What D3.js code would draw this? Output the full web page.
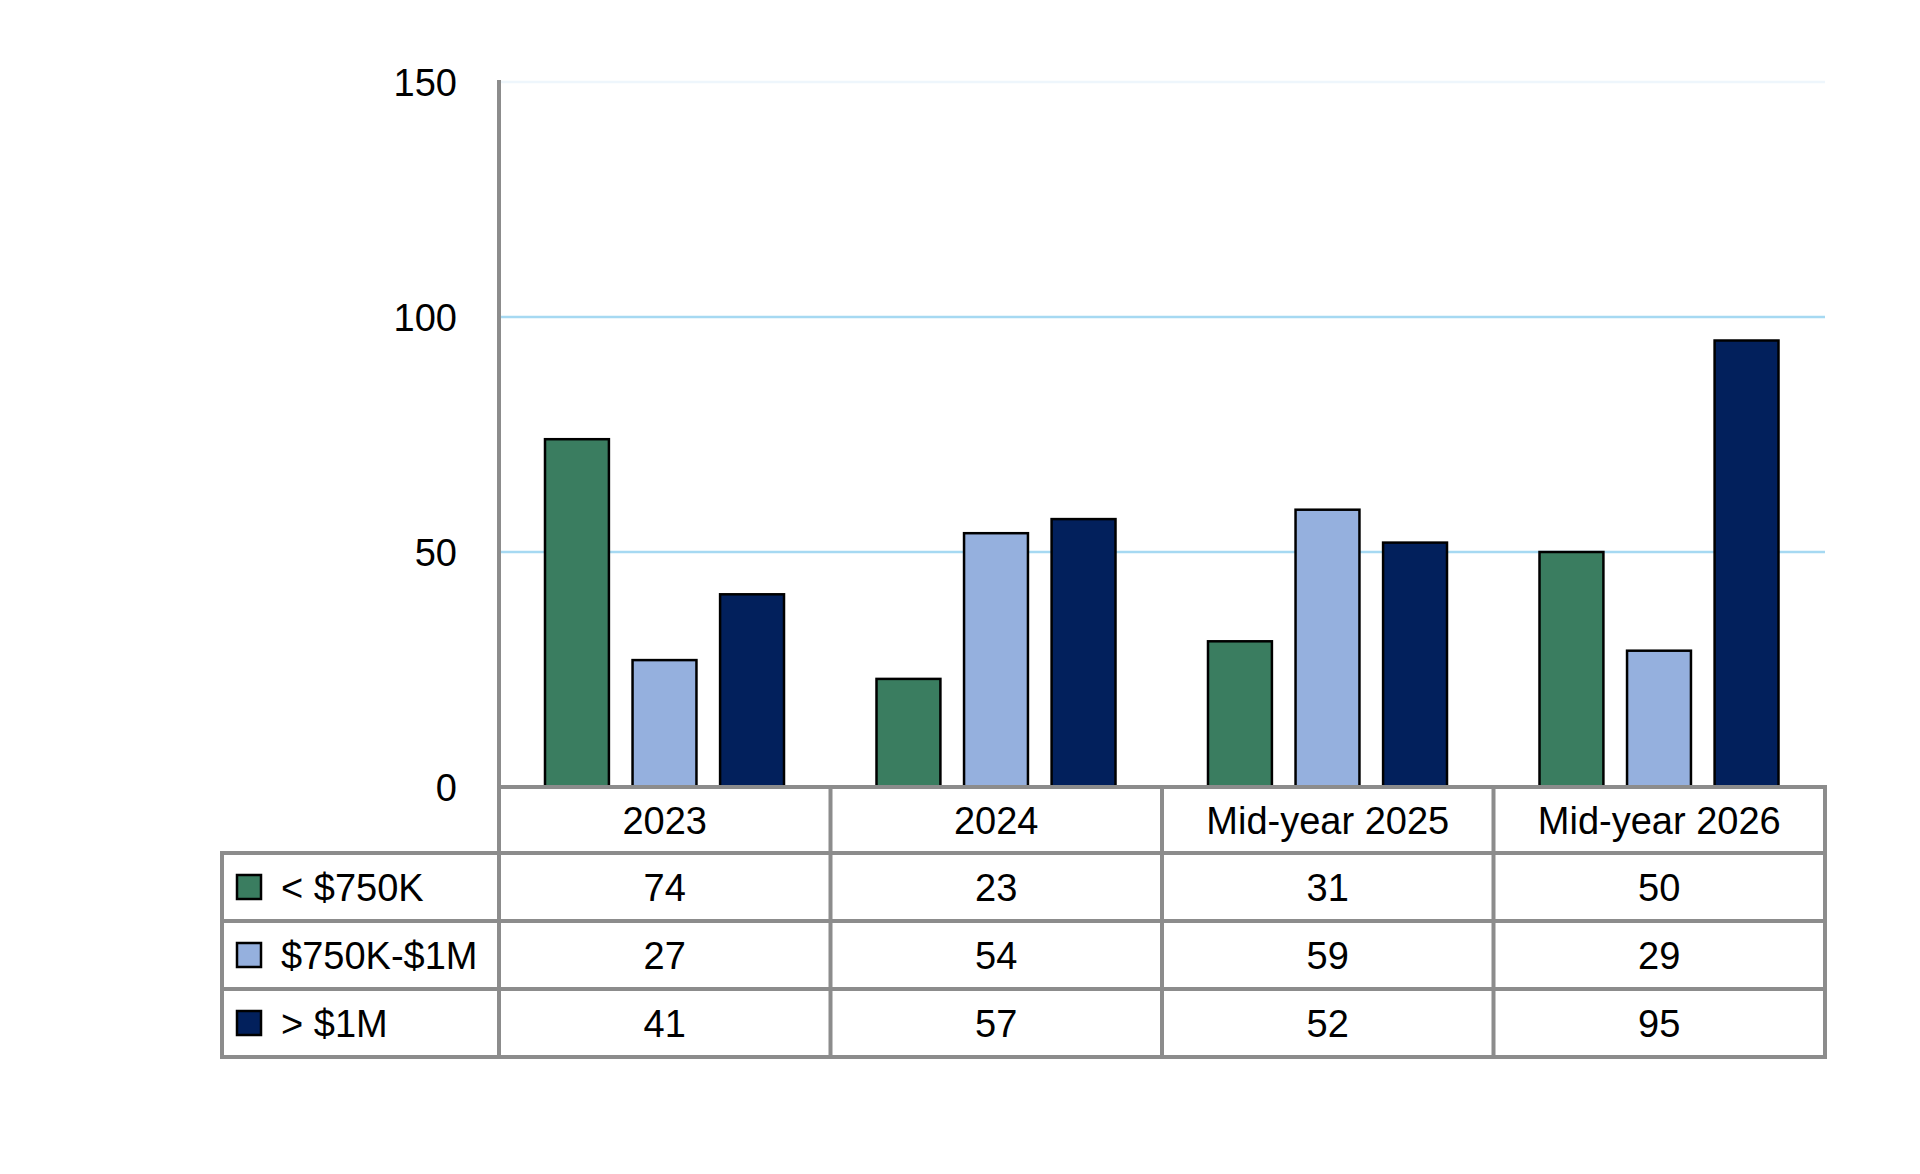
<!DOCTYPE html>
<html>
<head>
<meta charset="utf-8">
<script src="https://cdn.jsdelivr.net/npm/d3@7"></script>
<style>
  body { margin: 0; background: #ffffff; }
  text { font-family: "Liberation Sans", Arial, sans-serif; fill: #000000; }
</style>
</head>
<body>
<div id="chart"></div>
<script>
// chart data
var categories = ["2023", "2024", "Mid-year 2025", "Mid-year 2026"];
var series_names = ["< $750K", "$750K-$1M", "> $1M"];
var under_750k = [74, 23, 31, 50];
var mid_750k_1m = [27, 54, 59, 29];
var over_1m = [41, 57, 52, 95];
var y_ticks = [0, 50, 100, 150];

var series_values = [under_750k, mid_750k_1m, over_1m];
var colors = ["#3a7d60", "#95b0de", "#02205c"];

// set up chart parameters
var svg_width = 1920;
var svg_height = 1174;

var plot = { left: 499, right: 1825, top: 82, bottom: 787 };
var table = { left: 222, header: 66, row: 68 };
var line_gray = "#8c8c8c";
var font_size = 38;

var svg = d3.select("#chart")
    .append("svg")
    .attr("width", svg_width)
    .attr("height", svg_height);

// scales
var x0 = d3.scaleBand()
    .domain(categories)
    .range([plot.left, plot.right]);

var x1 = d3.scaleBand()
    .domain(d3.range(series_names.length))
    .range([46, 285])
    .paddingInner(0.27);

var y_scale = d3.scaleLinear()
    .domain([0, 150])
    .range([plot.bottom, plot.top]);

// gridlines (top one is very faint)
svg.append("g")
    .selectAll("line")
    .data(y_ticks.filter(d => d > 0))
    .enter()
    .append("line")
    .attr("x1", plot.left)
    .attr("x2", plot.right)
    .attr("y1", d => y_scale(d))
    .attr("y2", d => y_scale(d))
    .attr("stroke", d => d == 150 ? "#eef6fc" : "#a6d9f2")
    .attr("stroke-width", 2.5);

// y tick labels
svg.append("g")
    .selectAll("text")
    .data(y_ticks)
    .enter()
    .append("text")
    .attr("x", 457)
    .attr("y", d => y_scale(d))
    .attr("dy", "0.36em")
    .attr("text-anchor", "end")
    .attr("font-size", font_size)
    .text(d => d);

// bars
var bar_data = [];
categories.forEach(function(cat, i) {
    series_values.forEach(function(vals, s) {
        bar_data.push({ cat: cat, s: s, value: vals[i] });
    });
});

svg.append("g")
    .selectAll("rect")
    .data(bar_data)
    .enter()
    .append("rect")
    .attr("x", d => x0(d.cat) + x1(d.s))
    .attr("y", d => y_scale(d.value))
    .attr("width", x1.bandwidth())
    .attr("height", d => y_scale(0) - y_scale(d.value))
    .attr("fill", d => colors[d.s])
    .attr("stroke", "#000000")
    .attr("stroke-width", 2.5);

// data table
var header_bottom = plot.bottom + table.header;
var row_y = d => header_bottom + d * table.row;
var table_bottom = row_y(series_names.length);

var grid = svg.append("g")
    .attr("stroke", line_gray)
    .attr("stroke-width", 4)
    .attr("stroke-linecap", "square");

// horizontal table lines
grid.append("line")
    .attr("x1", plot.left).attr("x2", plot.right)
    .attr("y1", plot.bottom).attr("y2", plot.bottom);

grid.selectAll(".hline")
    .data(d3.range(series_names.length + 1))
    .enter()
    .append("line")
    .attr("x1", table.left).attr("x2", plot.right)
    .attr("y1", d => row_y(d)).attr("y2", d => row_y(d));

// vertical lines: value axis, category dividers, left border
grid.append("line")
    .attr("x1", plot.left).attr("x2", plot.left)
    .attr("y1", plot.top).attr("y2", table_bottom);

grid.selectAll(".vline")
    .data(categories)
    .enter()
    .append("line")
    .attr("x1", d => x0(d) + x0.bandwidth())
    .attr("x2", d => x0(d) + x0.bandwidth())
    .attr("y1", plot.bottom).attr("y2", table_bottom);

grid.append("line")
    .attr("x1", table.left).attr("x2", table.left)
    .attr("y1", header_bottom).attr("y2", table_bottom);

// category headers
svg.append("g")
    .selectAll("text")
    .data(categories)
    .enter()
    .append("text")
    .attr("x", d => x0(d) + x0.bandwidth() / 2)
    .attr("y", plot.bottom + table.header / 2)
    .attr("dy", "0.36em")
    .attr("text-anchor", "middle")
    .attr("font-size", font_size)
    .text(d => d);

// table values
series_values.forEach(function(vals, s) {
    svg.append("g")
        .selectAll("text")
        .data(vals)
        .enter()
        .append("text")
        .attr("x", (d, i) => x0(categories[i]) + x0.bandwidth() / 2)
        .attr("y", row_y(s) + table.row / 2)
        .attr("dy", "0.36em")
        .attr("text-anchor", "middle")
        .attr("font-size", font_size)
        .text(d => d);
});

// legend keys in the table
var legend = svg.append("g")
    .selectAll("g")
    .data(series_names)
    .enter()
    .append("g")
    .attr("transform", (d, i) => `translate(0, ${row_y(i) + table.row / 2})`);

legend.append("rect")
    .attr("x", 237)
    .attr("y", -12)
    .attr("width", 24)
    .attr("height", 24)
    .attr("fill", (d, i) => colors[i])
    .attr("stroke", "#000000")
    .attr("stroke-width", 2.5);

legend.append("text")
    .attr("x", 281)
    .attr("y", 0)
    .attr("dy", "0.36em")
    .attr("font-size", font_size)
    .text(d => d);
</script>
</body>
</html>
